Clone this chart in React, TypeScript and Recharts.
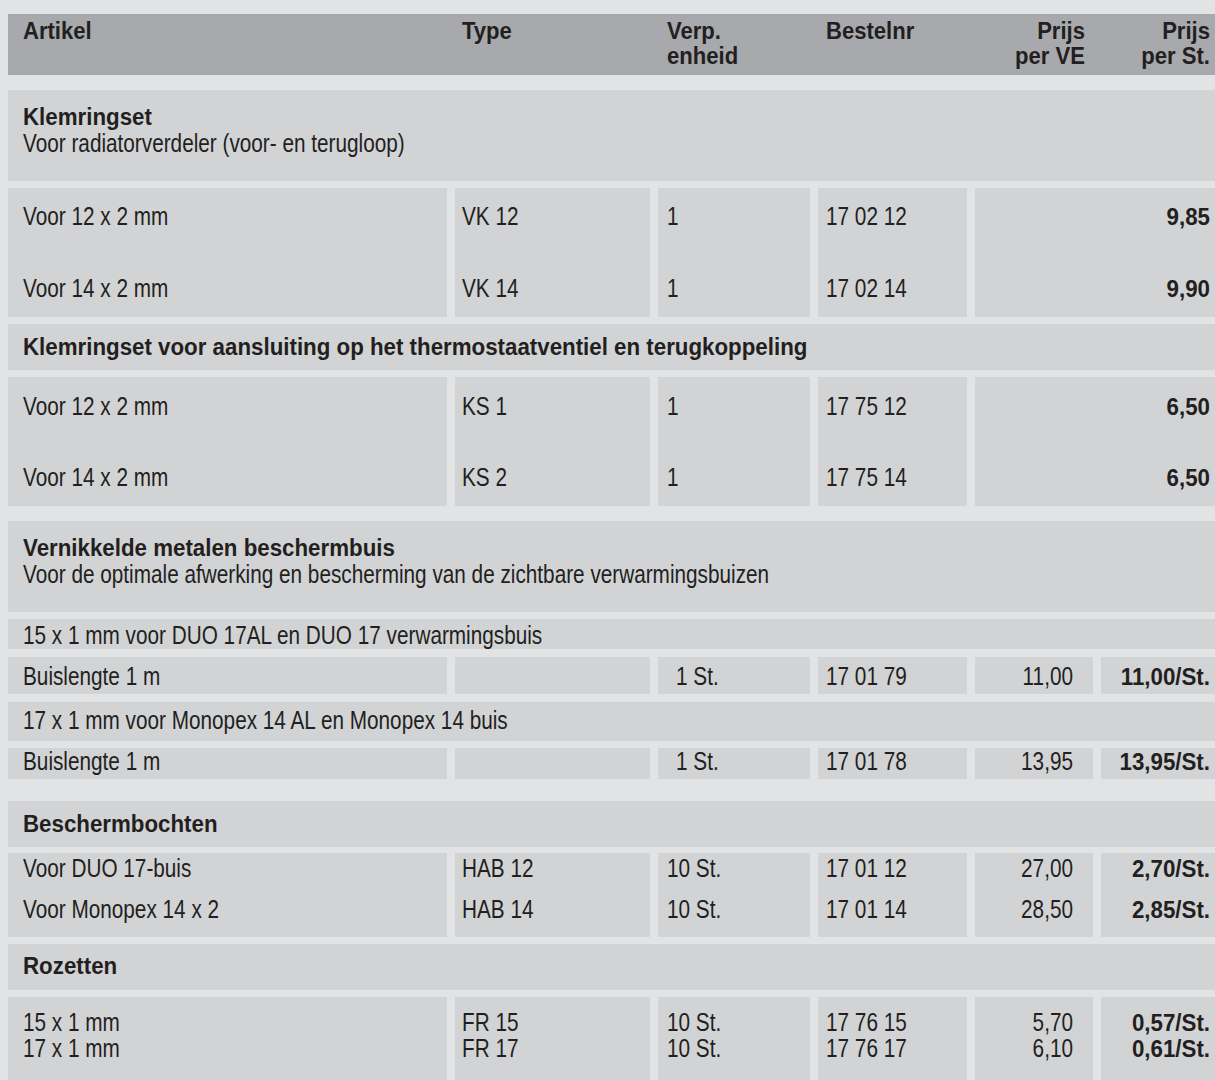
import React from 'react';
import { ComposedChart, XAxis, YAxis, ReferenceArea, Scatter } from 'recharts';

// ---------- data ----------
const headerLabels = ['Artikel', 'Type', 'Verp.\nenheid', 'Bestelnr', 'Prijs\nper VE', 'Prijs\nper St.'];
const sectionTitles = [
  'Klemringset',
  'Klemringset voor aansluiting op het thermostaatventiel en terugkoppeling',
  'Vernikkelde metalen beschermbuis',
  'Beschermbochten',
  'Rozetten',
];
const sectionSubtitles = [
  'Voor radiatorverdeler (voor- en terugloop)',
  '',
  'Voor de optimale afwerking en bescherming van de zichtbare verwarmingsbuizen',
  '',
  '',
];
const subHeadings = [
  '15 x 1 mm voor DUO 17AL en DUO 17 verwarmingsbuis',
  '17 x 1 mm voor Monopex 14 AL en Monopex 14 buis',
];
const articles = ['Voor 12 x 2 mm', 'Voor 14 x 2 mm', 'Voor 12 x 2 mm', 'Voor 14 x 2 mm', 'Buislengte 1 m', 'Buislengte 1 m', 'Voor DUO 17-buis', 'Voor Monopex 14 x 2', '15 x 1 mm', '17 x 1 mm'];
const types = ['VK 12', 'VK 14', 'KS 1', 'KS 2', '', '', 'HAB 12', 'HAB 14', 'FR 15', 'FR 17'];
const units = ['1', '1', '1', '1', '1 St.', '1 St.', '10 St.', '10 St.', '10 St.', '10 St.'];
const orderNumbers = ['17 02 12', '17 02 14', '17 75 12', '17 75 14', '17 01 79', '17 01 78', '17 01 12', '17 01 14', '17 76 15', '17 76 17'];
const pricePerPack = ['', '', '', '', '11,00', '13,95', '27,00', '28,50', '5,70', '6,10'];
const pricePerPiece = ['9,85', '9,90', '6,50', '6,50', '11,00/St.', '13,95/St.', '2,70/St.', '2,85/St.', '0,57/St.', '0,61/St.'];

// ---------- layout ----------
const W = 1215;
const H = 1080;
const BG = '#e2e3e5';
const HEAD_FILL = '#a7a9ac';
const CELL_FILL = '#d2d3d5';
const INK = '#231f20';
const FONT = "'Liberation Sans', Arial, Helvetica, sans-serif";
const STYLE: Record<string, { size: number; sx: number; weight: number }> = {
  reg: { size: 25, sx: 0.83, weight: 400 },
  bold: { size: 24, sx: 0.93, weight: 700 },
  head: { size: 23, sx: 0.96, weight: 700 },
};
const COLS = [[8, 447], [455, 650], [658, 810], [818, 967], [975, 1093], [1101, 1215]];
const COL_TEXT: { x: number; a: 'start' | 'end' }[] = [
  { x: 23, a: 'start' }, { x: 462, a: 'start' }, { x: 667, a: 'start' },
  { x: 826, a: 'start' }, { x: 1073, a: 'end' }, { x: 1210, a: 'end' },
];
const HEADER_X = [23, 462, 667, 826, 1085, 1210];
const HEADER_A: ('start' | 'end')[] = ['start', 'start', 'start', 'start', 'end', 'end'];
const HEADER_BAND = { top: 14, bottom: 75, base: 39, line: 25 };
const SECTIONS = [
  { top: 90, bottom: 181, title: 125, sub: 152 },
  { top: 324, bottom: 370, title: 355, sub: 0 },
  { top: 521, bottom: 612, title: 556, sub: 583 },
  { top: 801, bottom: 847, title: 832, sub: 0 },
  { top: 944, bottom: 990, title: 974, sub: 0 },
];
const SUBS = [
  { top: 619, bottom: 649, base: 644 },
  { top: 702, bottom: 741, base: 729 },
];
const GROUPS = [
  { top: 188, bottom: 317, rows: [0, 1], base: [225, 297], merged: true },
  { top: 377, bottom: 506, rows: [2, 3], base: [415, 486], merged: true },
  { top: 657, bottom: 694, rows: [4], base: [685], merged: false },
  { top: 748, bottom: 779, rows: [5], base: [770], merged: false },
  { top: 853, bottom: 937, rows: [6, 7], base: [877, 918], merged: false },
  { top: 997, bottom: 1080, rows: [8, 9], base: [1031, 1057], merged: false },
];
const UNIT_INDENT = [0, 0, 0, 0, 9, 9, 0, 0, 0, 0];

type Rect = { x1: number; x2: number; y1: number; y2: number; fill: string };
type Txt = { x: number; y: number; text: string; style: string; anchor: 'start' | 'end' };

const rects: Rect[] = [];
const texts: Txt[] = [];

rects.push({ x1: 8, x2: W, y1: HEADER_BAND.top, y2: HEADER_BAND.bottom, fill: HEAD_FILL });
headerLabels.forEach((lab, i) => {
  lab.split('\n').forEach((ln, j) => {
    texts.push({ x: HEADER_X[i], y: HEADER_BAND.base + j * HEADER_BAND.line, text: ln, style: 'head', anchor: HEADER_A[i] });
  });
});

SECTIONS.forEach((s, i) => {
  rects.push({ x1: 8, x2: W, y1: s.top, y2: s.bottom, fill: CELL_FILL });
  texts.push({ x: 23, y: s.title, text: sectionTitles[i], style: 'bold', anchor: 'start' });
  if (sectionSubtitles[i]) texts.push({ x: 23, y: s.sub, text: sectionSubtitles[i], style: 'reg', anchor: 'start' });
});

SUBS.forEach((s, i) => {
  rects.push({ x1: 8, x2: W, y1: s.top, y2: s.bottom, fill: CELL_FILL });
  texts.push({ x: 23, y: s.base, text: subHeadings[i], style: 'reg', anchor: 'start' });
});

GROUPS.forEach((g) => {
  const cols = g.merged ? [COLS[0], COLS[1], COLS[2], COLS[3], [COLS[4][0], COLS[5][1]]] : COLS;
  cols.forEach((c) => rects.push({ x1: c[0], x2: c[1], y1: g.top, y2: g.bottom, fill: CELL_FILL }));
  g.rows.forEach((r, k) => {
    const y = g.base[k];
    const vals = [articles[r], types[r], units[r], orderNumbers[r], pricePerPack[r], pricePerPiece[r]];
    vals.forEach((v, ci) => {
      if (!v) return;
      const x = COL_TEXT[ci].x + (ci === 2 ? UNIT_INDENT[r] : 0);
      texts.push({ x, y, text: v, style: ci === 5 ? 'bold' : 'reg', anchor: COL_TEXT[ci].a });
    });
  });
});

const TextMark = (props: any) => {
  const { cx, cy, payload } = props;
  if (cx == null || cy == null) return null;
  const st = STYLE[payload.style];
  return (
    <text
      transform={`translate(${cx},${cy}) scale(${st.sx},1)`}
      textAnchor={payload.anchor}
      fontFamily={FONT}
      fontSize={st.size}
      fontWeight={st.weight}
      fill={INK}
    >
      {payload.text}
    </text>
  );
};

export default function App() {
  return (
    <div style={{ position: 'absolute', left: 0, top: 0, width: W, height: H, background: BG, overflow: 'hidden' }}>
      <ComposedChart width={W} height={H} margin={{ top: 0, right: 0, bottom: 0, left: 0 }} data={texts}>
        <XAxis type="number" dataKey="x" domain={[0, W]} hide allowDataOverflow />
        <YAxis type="number" dataKey="y" domain={[0, H]} reversed hide allowDataOverflow />
        {rects.map((r, i) => (
          <ReferenceArea
            key={`r${i}`}
            x1={r.x1}
            x2={r.x2}
            y1={r.y1}
            y2={r.y2}
            fill={r.fill}
            fillOpacity={1}
            stroke="none"
            ifOverflow="visible"
          />
        ))}
        <Scatter data={texts} dataKey="y" shape={TextMark} isAnimationActive={false} />
      </ComposedChart>
    </div>
  );
}
